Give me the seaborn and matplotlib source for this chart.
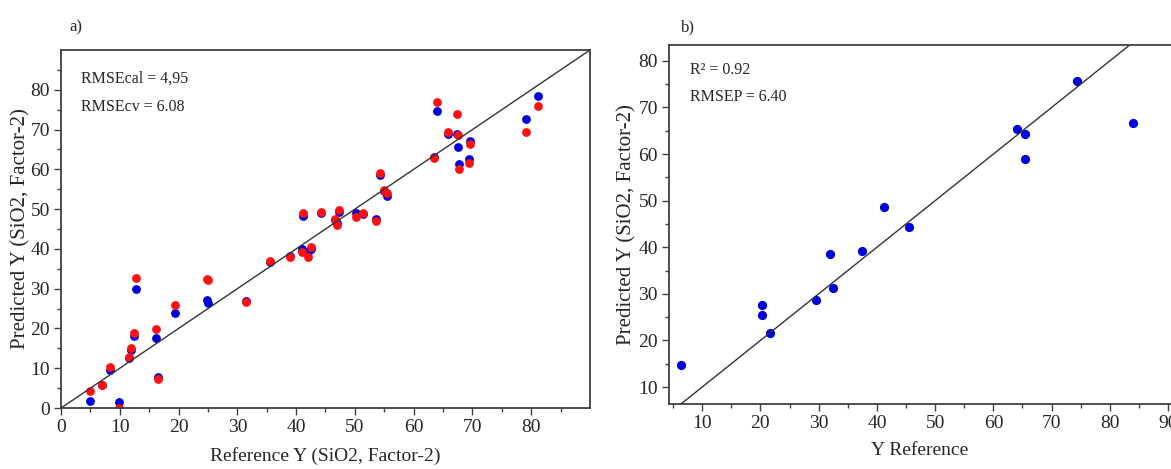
import matplotlib
matplotlib.use("Agg")
import matplotlib.pyplot as plt
import seaborn as sns
import pandas as pd
from matplotlib.ticker import MultipleLocator, FixedLocator

# panel a) calibration / cross-validation
ref_a = [4.9, 7.0, 8.3, 9.9, 11.6, 11.9, 12.4, 12.8, 16.2, 16.5, 19.4, 24.8, 25.0,
         31.5, 35.5, 39.0, 41.1, 41.0, 42.1, 42.6, 44.3, 46.7, 47.0, 47.3, 50.2,
         51.3, 53.6, 54.2, 54.9, 55.5, 63.4, 64.0, 65.9, 67.3, 67.5, 67.7, 69.4,
         69.6, 79.1, 81.1]
pred_cal = [1.8, 5.7, 9.5, 1.6, 12.7, 14.6, 18.1, 29.8, 17.6, 7.9, 23.9, 27.2, 26.3,
            26.9, 36.6, 38.2, 48.2, 40.1, 39.3, 39.9, 49.0, 47.2, 46.5, 49.3, 49.1,
            48.7, 47.5, 58.5, 54.6, 53.2, 63.0, 74.8, 69.0, 69.0, 65.7, 61.4, 62.5,
            67.2, 72.7, 78.5]
pred_cv = [4.4, 5.9, 10.4, 0.1, 12.9, 15.1, 18.9, 32.7, 19.8, 7.3, 25.8, 32.5, 32.3,
           26.6, 36.9, 38.0, 49.1, 39.3, 38.0, 40.5, 49.4, 47.6, 46.1, 49.8, 48.1,
           49.0, 46.9, 59.2, 54.9, 54.1, 62.8, 76.9, 69.3, 73.8, 68.6, 60.2, 61.6,
           66.5, 69.3, 75.9]

# panel b) external prediction
ref_b = [6.3, 20.2, 20.2, 21.7, 29.5, 31.9, 32.5, 37.4, 41.3, 45.5, 64.0, 65.5,
         65.5, 74.3, 84.0]
pred_b = [14.8, 27.6, 25.5, 21.6, 28.6, 38.6, 31.2, 39.3, 48.6, 44.4, 65.4, 64.4,
          58.9, 75.7, 66.7]

ticks_a = [0, 10, 20, 30, 40, 50, 60, 70, 80]
minor_a = [5, 15, 25, 35, 45, 55, 65, 75, 85]

df_a = pd.DataFrame({"ref": ref_a, "cal": pred_cal, "cv": pred_cv})
df_b = pd.DataFrame({"ref": ref_b, "pred": pred_b})

sns.set_style("ticks")
plt.rcParams["font.family"] = ["Liberation Serif", "DejaVu Serif"]

fig = plt.figure(figsize=(11.71, 4.69), dpi=100)
ax1 = fig.add_axes([0.0521, 0.130, 0.4517, 0.7633])
ax2 = fig.add_axes([0.5713, 0.138, 0.4287, 0.766])

blue = "#0000dd"
red = "#ff1010"
frame = "#404040"

sns.scatterplot(data=df_a, x="ref", y="cal", color=blue, s=40, linewidth=0, ax=ax1)
sns.scatterplot(data=df_a, x="ref", y="cv", color=red, s=40, linewidth=0, ax=ax1)
ax1.axline((0, 0), slope=1, color="#333333", lw=1.0, zorder=1)
ax1.set_xlim(0, 90)
ax1.set_ylim(0, 90)
for axis in (ax1.xaxis, ax1.yaxis):
    axis.set_major_locator(FixedLocator(ticks_a))
    axis.set_minor_locator(FixedLocator(minor_a))

sns.scatterplot(data=df_b, x="ref", y="pred", color=blue, s=44, linewidth=0, ax=ax2)
ax2.axline((0, 0), slope=1, color="#333333", lw=1.0, zorder=1)
ax2.set_xlim(4.3, 90.5)
ax2.set_ylim(6.3, 83.4)
ax2.spines["right"].set_visible(False)
for axis in (ax2.xaxis, ax2.yaxis):
    axis.set_major_locator(MultipleLocator(10))
    axis.set_minor_locator(MultipleLocator(5))

for ax in (ax1, ax2):
    ax.tick_params(which="major", length=5, width=1, color=frame, labelsize=14, pad=3)
    ax.tick_params(which="minor", length=3, width=1, color=frame)
    for sp in ax.spines.values():
        sp.set_color(frame)
        sp.set_linewidth(1.3)

ax1.set_xlabel("Reference Y (SiO2, Factor-2)", fontsize=14, labelpad=8)
ax1.set_ylabel("Predicted Y (SiO2, Factor-2)", fontsize=15, labelpad=0)
ax2.set_xlabel("Y Reference", fontsize=14, labelpad=7)
ax2.set_ylabel("Predicted Y (SiO2, Factor-2)", fontsize=15, labelpad=1)

ax1.text(0.038, 0.92, "RMSEcal = 4,95", transform=ax1.transAxes, fontsize=11.5, va="center")
ax1.text(0.038, 0.842, "RMSEcv = 6.08", transform=ax1.transAxes, fontsize=11.5, va="center")
ax2.text(0.042, 0.93, "R² = 0.92", transform=ax2.transAxes, fontsize=11.5, va="center")
ax2.text(0.042, 0.855, "RMSEP = 6.40", transform=ax2.transAxes, fontsize=11.5, va="center")

fig.text(69 / 1171, 1 - 27 / 469, "a)", fontsize=12, va="center")
fig.text(681 / 1171, 1 - 27 / 469, "b)", fontsize=12, va="center")

fig.savefig("out.png", dpi=100)
